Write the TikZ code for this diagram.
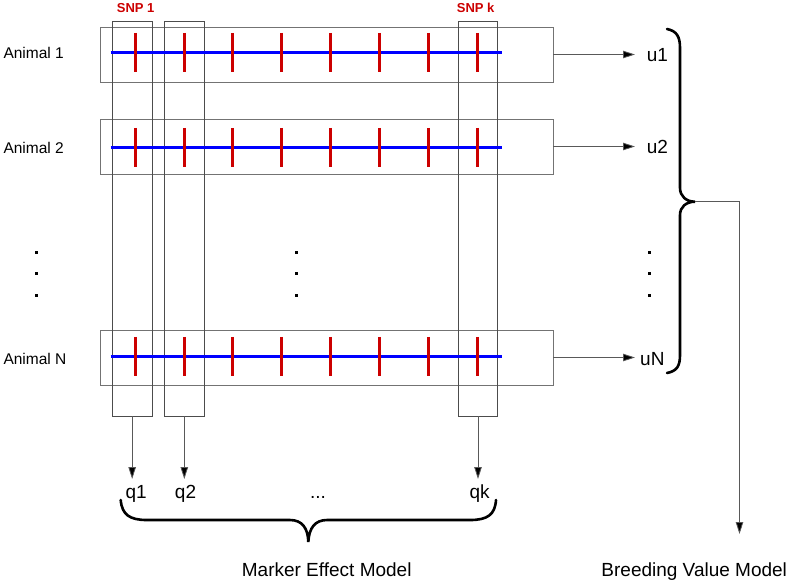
\documentclass[tikz,border=0pt]{standalone}
\usepackage{fontspec}
\setmainfont{Liberation Sans}
\usetikzlibrary{arrows.meta}
\definecolor{snpred}{RGB}{204,0,0}
\definecolor{chromblue}{RGB}{0,0,255}
\tikzset{
  animalbox/.style={draw=black!55, line width=0.8pt, rectangle, minimum width=453pt, minimum height=55pt, inner sep=0pt},
  snpbox/.style={draw=black!70, line width=0.8pt, rectangle, minimum width=39.7pt, minimum height=394.7pt, inner sep=0pt},
  arr/.style={draw=black!65, line width=0.8pt, -{Triangle[length=12pt,width=7.5pt,fill=black]}},
  lbl/.style={font=\fontsize{15.5}{18}\selectfont, anchor=base west, inner sep=0pt},
  snplbl/.style={font=\fontsize{13}{15}\selectfont\bfseries, text=snpred, anchor=base west, inner sep=0pt},
  vlbl/.style={font=\fontsize{19}{22}\selectfont, inner sep=0pt},
  bracepath/.style={draw=black, line width=2.6pt, line cap=round},
  chrom/.style={draw=chromblue, line width=3pt},
  tick/.style={draw=snpred, line width=3pt},
  dotsq/.style={fill=black}
}
\begin{document}
\begin{tikzpicture}[x=1pt,y=-1pt]
\useasboundingbox (0,0) rectangle (794,579);

% animal boxes
\node[animalbox] (a1) at (326.5,54.5) {};
\node[animalbox] (a2) at (326.5,146.5) {};
\node[animalbox] (aN) at (326.5,357.5) {};

% SNP column boxes
\node[snpbox] (c1) at (132.15,218.65) {};
\node[snpbox] (c2) at (184.3,218.65) {};
\node[snpbox] (ck) at (478,218.65) {};

% chromosomes and markers
\foreach \yy in {52.5,147.5,356.5}{
  \draw[chrom] (110.5,\yy) -- (501.5,\yy);
  \foreach \xx in {135.5,184.5,232.5,281.5,330.5,379.5,428.5,477.5}{
    \draw[tick] (\xx,\yy-19.7) -- (\xx,\yy+19.7);
  }
}

% labels
\node[lbl] (l1) at (3.3,58.3) {Animal 1};
\node[lbl] (l2) at (3.3,153.3) {Animal 2};
\node[lbl] (lN) at (3.3,364) {Animal N};
\node[snplbl] (s1) at (116.7,12.7) {SNP 1};
\node[snplbl] (sk) at (456.7,12.7) {SNP k};

% vertical dots
\foreach \xx in {36.7,296.7,649}{
  \foreach \yy in {252.3,273.3,295.7}{
    \fill[dotsq] (\xx-1.5,\yy-1.5) rectangle ++(3,3);
  }
}

% breeding values
\node[vlbl, anchor=base west] (u1) at (646.7,61.7) {u1};
\node[vlbl, anchor=base west] (u2) at (646.7,153.3) {u2};
\node[vlbl, anchor=base west] (uN) at (640,365) {uN};
\coordinate (u1t) at (635,54.5);
\coordinate (u2t) at (635,146.5);
\coordinate (uNt) at (635,357.5);
\draw[arr] (a1.east) -- (u1t);
\draw[arr] (a2.east) -- (u2t);
\draw[arr] (aN.east) -- (uNt);

% marker effects
\node[vlbl, anchor=base] (q1) at (136.2,498.3) {q1};
\node[vlbl, anchor=base] (q2) at (185.5,498.3) {q2};
\node[vlbl, anchor=base] (qd) at (318,498.3) {...};
\node[vlbl, anchor=base] (qk) at (479.7,498.3) {qk};
\coordinate (q1t) at (c1.south |- 0,479);
\coordinate (q2t) at (c2.south |- 0,479);
\coordinate (qkt) at (ck.south |- 0,479);
\draw[arr] (c1.south) -- (q1t);
\draw[arr] (c2.south) -- (q2t);
\draw[arr] (ck.south) -- (qkt);

% bottom brace
\draw[bracepath] (120.7,500) .. controls (122,515) and (130,520) .. (147,520)
  -- (290,520) .. controls (302,520) and (308,528) .. (308.3,542)
  .. controls (309,528) and (315,520) .. (327,520)
  -- (470,520) .. controls (487,520) and (495,515) .. (496,500);

% right brace
\coordinate (bt) at (695,201.7);
\draw[bracepath] (667,29) .. controls (677,31) and (680,37) .. (680,48)
  -- (680,188) .. controls (680,196) and (686,201.7) .. (bt)
  .. controls (686,201.7) and (680,207) .. (680,215)
  -- (680,355) .. controls (680,366) and (677,371) .. (667,373);

% breeding value model arrow
\coordinate (bvend) at (739.5,534);
\draw[arr] (bt) -| (bvend);

% model labels
\node[vlbl, anchor=base] (mem) at (326.7,576) {Marker Effect Model};
\node[vlbl, anchor=base] (bvm) at (694.2,576) {Breeding Value Model};
\end{tikzpicture}
\end{document}
